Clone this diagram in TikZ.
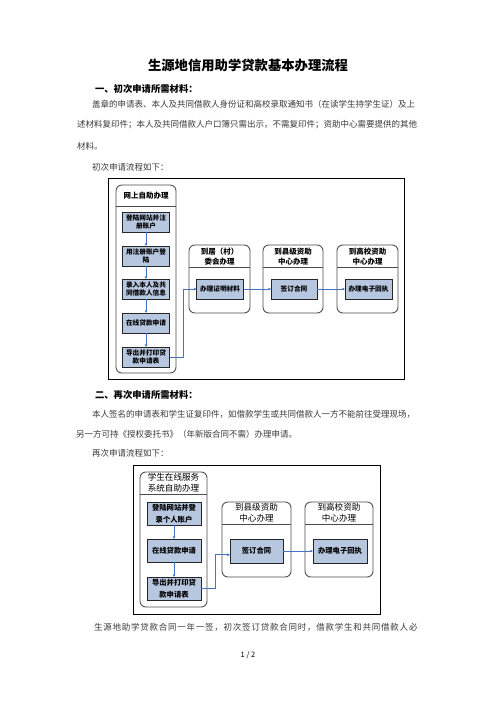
\documentclass[tikz,border=0pt]{standalone}
\usepackage{fontspec}
\setmainfont{Noto Sans CJK SC}
\newfontfamily\spacedcjk[LetterSpace=9]{Noto Sans CJK SC}
\usetikzlibrary{arrows.meta}
\definecolor{boxfill}{HTML}{B8C7E0}
\definecolor{arrowblue}{HTML}{4472C4}
\definecolor{bodygray}{HTML}{3A3A3A}
\begin{document}
\begin{tikzpicture}[x=1.2pt,y=-1.2pt,
  every node/.style={inner sep=0pt,outer sep=0pt},
  sz/.style 2 args={minimum width=#1*1.2pt,minimum height=#2*1.2pt},
  bodytext/.style={anchor=west,text=bodygray,font=\fontsize{10.2pt}{12pt}\selectfont},
  headtext/.style={anchor=west,font=\fontsize{11.2pt}{13pt}\selectfont\bfseries},
  frame/.style={draw=black,line width=1pt},
  lane/.style={draw=black!70,line width=1.1pt,rounded corners=7pt},
  sepline/.style={draw=black!70,line width=0.8pt},
  lanehead/.style={align=center,font=\fontsize{9pt}{12pt}\selectfont\bfseries},
  laneheadb/.style={align=center,font=\fontsize{10.3pt}{13.2pt}\selectfont},
  inbox/.style={draw=black!85,fill=boxfill,line width=0.6pt,align=center,
    font=\fontsize{8pt}{10pt}\selectfont\bfseries},
  inboxb/.style={draw=black!85,fill=boxfill,line width=0.6pt,align=center,
    font=\fontsize{8.8pt}{14.4pt}\selectfont\bfseries},
  flow/.style={draw=arrowblue,line width=0.7pt,-{Stealth[length=3.6pt,width=3.2pt]}}
]
\useasboundingbox[fill=white] (0,0) rectangle (496,702);

% ---- text ----
\node[font=\fontsize{16pt}{18pt}\selectfont\bfseries] (title) at (248,65) {生源地信用助学贷款基本办理流程};
\node[headtext] (h1) at (95,89) {一、初次申请所需材料：};
\node[bodytext] (p1) at (92,104) {盖章的申请表、本人及共同借款人身份证和高校录取通知书（在读学生持学生证）及上};
\node[bodytext] (p2) at (77,125) {述材料复印件；本人及共同借款人户口簿只需出示，不需复印件；资助中心需要提供的其他};
\node[bodytext] (p3) at (77,146) {材料。};
\node[bodytext] (p4) at (92,167) {初次申请流程如下：};

\node[headtext] (h2) at (95,395) {二、再次申请所需材料：};
\node[bodytext] (q1) at (92,414) {本人签名的申请表和学生证复印件，如借款学生或共同借款人一方不能前往受理现场，};
\node[bodytext] (q2) at (76,434) {另一方可持《授权委托书》（年新版合同不需）办理申请。};
\node[bodytext] (q3) at (92,453) {再次申请流程如下：};

\node[anchor=west,text=bodygray,font=\fontsize{10.2pt}{12pt}\spacedcjk] (r1) at (94,627) {生源地助学贷款合同一年一签，初次签订贷款合同时，借款学生和共同借款人必};
\node[font=\fontsize{9pt}{11pt}\selectfont] (pg) at (248,655) {1 / 2};

% ---- flow chart 1 ----
\node[frame,sz={296}{201}] (F1) at (256,278.5) {};
\node[lane,sz={60}{188}] (L1) at (146,279) {};
\draw[sepline] (116,206) -- (176,206);
\node[lanehead] (L1h) at (146,195.5) {网上自助办理};
\node[lane,sz={61}{68}] (L2) at (219.5,279) {};
\draw[sepline] (189,267) -- (250,267);
\node[lanehead] (L2h) at (219.5,256.5) {到居（村）\\委会办理};
\node[lane,sz={60}{68}] (L3) at (293,279) {};
\draw[sepline] (263,267) -- (323,267);
\node[lanehead] (L3h) at (293,256.5) {到县级资助\\中心办理};
\node[lane,sz={61}{68}] (L4) at (367.5,279) {};
\draw[sepline] (337,267) -- (398,267);
\node[lanehead] (L4h) at (367.5,256.5) {到高校资助\\中心办理};

\node[inbox,sz={47}{20}] (a1) at (146,222) {登陆网站并注\\册账户};
\node[inbox,sz={47}{20}] (a2) at (146,256) {用注册账户登\\陆};
\node[inbox,sz={47}{20}] (a3) at (146,289) {录入本人及共\\同借款人信息};
\node[inbox,sz={47}{20}] (a4) at (146,323) {在线贷款申请};
\node[inbox,sz={47}{20}] (a5) at (146,357) {导出并打印贷\\款申请表};
\node[inbox,sz={47}{20}] (c1) at (220,289) {办理证明材料};
\node[inbox,sz={46}{20}] (c2) at (294,289) {签订合同};
\node[inbox,sz={47}{20}] (c3) at (368.5,289) {办理电子回执};

\draw[flow] (a1) -- (a2);
\draw[flow] (a2) -- (a3);
\draw[flow] (a3) -- (a4);
\draw[flow] (a4) -- (a5);
\draw[flow] (a5.east) -- ++(13.5,0) |- (c1.west);
\draw[flow] (c1) -- (c2);
\draw[flow] (c2) -- (c3);

% ---- flow chart 2 ----
\node[frame,sz={247}{149}] (F2) at (256.5,539.5) {};
\node[lane,sz={67}{135}] (M1) at (173.5,539.5) {};
\draw[sepline] (140,494) -- (207,494);
\node[laneheadb] (M1h) at (173.5,483) {学生在线服务\\系统自助办理};
\node[lane,sz={69}{75}] (M2) at (256.5,539.5) {};
\draw[sepline] (222,524) -- (291,524);
\node[laneheadb] (M2h) at (256.5,513) {到县级资助\\中心办理};
\node[lane,sz={68}{75}] (M3) at (339,539.5) {};
\draw[sepline] (305,524) -- (373,524);
\node[laneheadb] (M3h) at (339,513) {到高校资助\\中心办理};

\node[inboxb,sz={54}{23}] (s1) at (174,513.5) {登陆网站并登\\录个人账户};
\node[inboxb,sz={54}{23}] (s2) at (174,550.5) {在线贷款申请};
\node[inboxb,sz={54}{23}] (s3) at (174,588.5) {导出并打印贷\\款申请表};
\node[inboxb,sz={53}{24}] (t1) at (256.5,551) {签订合同};
\node[inboxb,sz={54}{24}] (t2) at (340,551) {办理电子回执};

\draw[flow] (s1) -- (s2);
\draw[flow] (s2) -- (s3);
\draw[flow] (s3.east) -- ++(14,0) |- ([yshift=-4.5pt]t1.west);
\draw[flow] (t1) -- (t2);
\end{tikzpicture}
\end{document}
